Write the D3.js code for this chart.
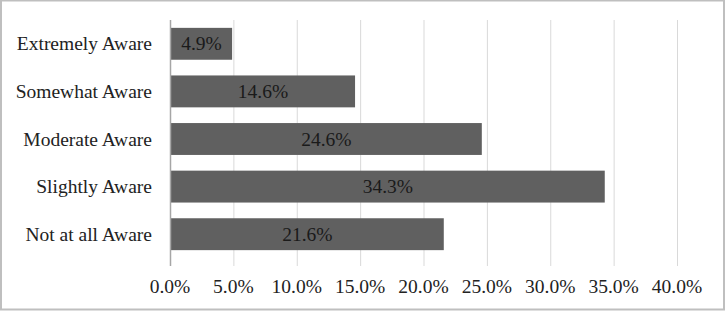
<!DOCTYPE html>
<html lang="en">
  <head>
    <meta charset="utf-8" />
    <title>Awareness levels</title>
    <script src="https://cdnjs.cloudflare.com/ajax/libs/d3/7.8.5/d3.min.js"></script>
    <style type="text/css">
      body {
        margin: 0;
        background: #fff;
      }
      svg {
        display: block;
      }
      text {
        font-family: "Liberation Serif", "Tinos", "Times New Roman", "DejaVu Serif", serif;
        font-size: 19.5px;
      }
      .grid line {
        stroke: #d9d9d9;
        stroke-width: 1;
      }
      .bar {
        fill: #606060;
      }
      .barLabel {
        fill: #1a1a1a;
        text-anchor: middle;
      }
      .catLabel,
      .tickLabel {
        fill: #222;
      }
    </style>
  </head>

  <body>
    <div id="chart"></div>

    <script>
      // data
      const categories = [
        "Extremely Aware",
        "Somewhat Aware",
        "Moderate Aware",
        "Slightly Aware",
        "Not at all Aware",
      ];
      const values = [4.9, 14.6, 24.6, 34.3, 21.6];
      const xTicks = [0, 5, 10, 15, 20, 25, 30, 35, 40];

      const outerWidth = 726;
      const outerHeight = 311;
      const margin = { top: 20, right: 49, bottom: 45, left: 170 };
      const innerWidth = outerWidth - margin.left - margin.right;
      const innerHeight = outerHeight - margin.top - margin.bottom;
      const fontStack = '"Liberation Serif", Tinos, "Times New Roman", "DejaVu Serif", serif';

      const root = d3
        .select("#chart")
        .append("svg")
        .attr("width", outerWidth)
        .attr("height", outerHeight)
        .attr("font-family", fontStack);

      // outer frame
      root
        .append("rect")
        .attr("x", 1)
        .attr("y", 0.5)
        .attr("width", outerWidth - 3)
        .attr("height", outerHeight - 2)
        .attr("fill", "none")
        .attr("stroke", "#bfbfbf")
        .attr("stroke-width", 2);

      const svg = root
        .append("g")
        .attr("transform", `translate(${margin.left},${margin.top})`);

      const x = d3.scaleLinear().domain([0, 40]).range([0, innerWidth]);
      const y = d3
        .scaleBand()
        .domain(categories)
        .range([0, innerHeight - 8])
        .paddingInner(0.33)
        .paddingOuter(0.165);

      // grid lines
      svg
        .append("g")
        .attr("class", "grid")
        .selectAll("line")
        .data(xTicks.slice(1))
        .join("line")
        .attr("x1", (d) => x(d) + 0.5)
        .attr("x2", (d) => x(d) + 0.5)
        .attr("y1", 0)
        .attr("y2", innerHeight);

      // bars
      svg
        .selectAll(".bar")
        .data(values)
        .join("rect")
        .attr("class", "bar")
        .attr("x", x(0) + 1)
        .attr("y", (d, i) => y(categories[i]))
        .attr("width", (d) => x(d) - x(0) - 1)
        .attr("height", y.bandwidth());

      // bar labels
      svg
        .selectAll(".barLabel")
        .data(values)
        .join("text")
        .attr("class", "barLabel")
        .attr("font-family", fontStack)
        .attr("x", (d) => x(d / 2) + 0.5)
        .attr("y", (d, i) => y(categories[i]) + y.bandwidth() / 2 + 6.5)
        .text((d) => d.toFixed(1) + "%");

      // y axis line
      svg
        .append("line")
        .attr("x1", 0.5)
        .attr("x2", 0.5)
        .attr("y1", 0)
        .attr("y2", innerHeight)
        .attr("stroke", "#a6a6a6")
        .attr("stroke-width", 1.5);

      // category labels
      svg
        .selectAll(".catLabel")
        .data(categories)
        .join("text")
        .attr("class", "catLabel")
        .attr("font-family", fontStack)
        .attr("x", -18)
        .attr("y", (d) => y(d) + y.bandwidth() / 2 + 6.5)
        .attr("text-anchor", "end")
        .text((d) => d);

      // x tick labels
      svg
        .selectAll(".tickLabel")
        .data(xTicks)
        .join("text")
        .attr("class", "tickLabel")
        .attr("font-family", fontStack)
        .attr("x", (d) => x(d))
        .attr("y", innerHeight + 27)
        .attr("text-anchor", "middle")
        .text((d) => d.toFixed(1) + "%");
    </script>
  </body>
</html>
